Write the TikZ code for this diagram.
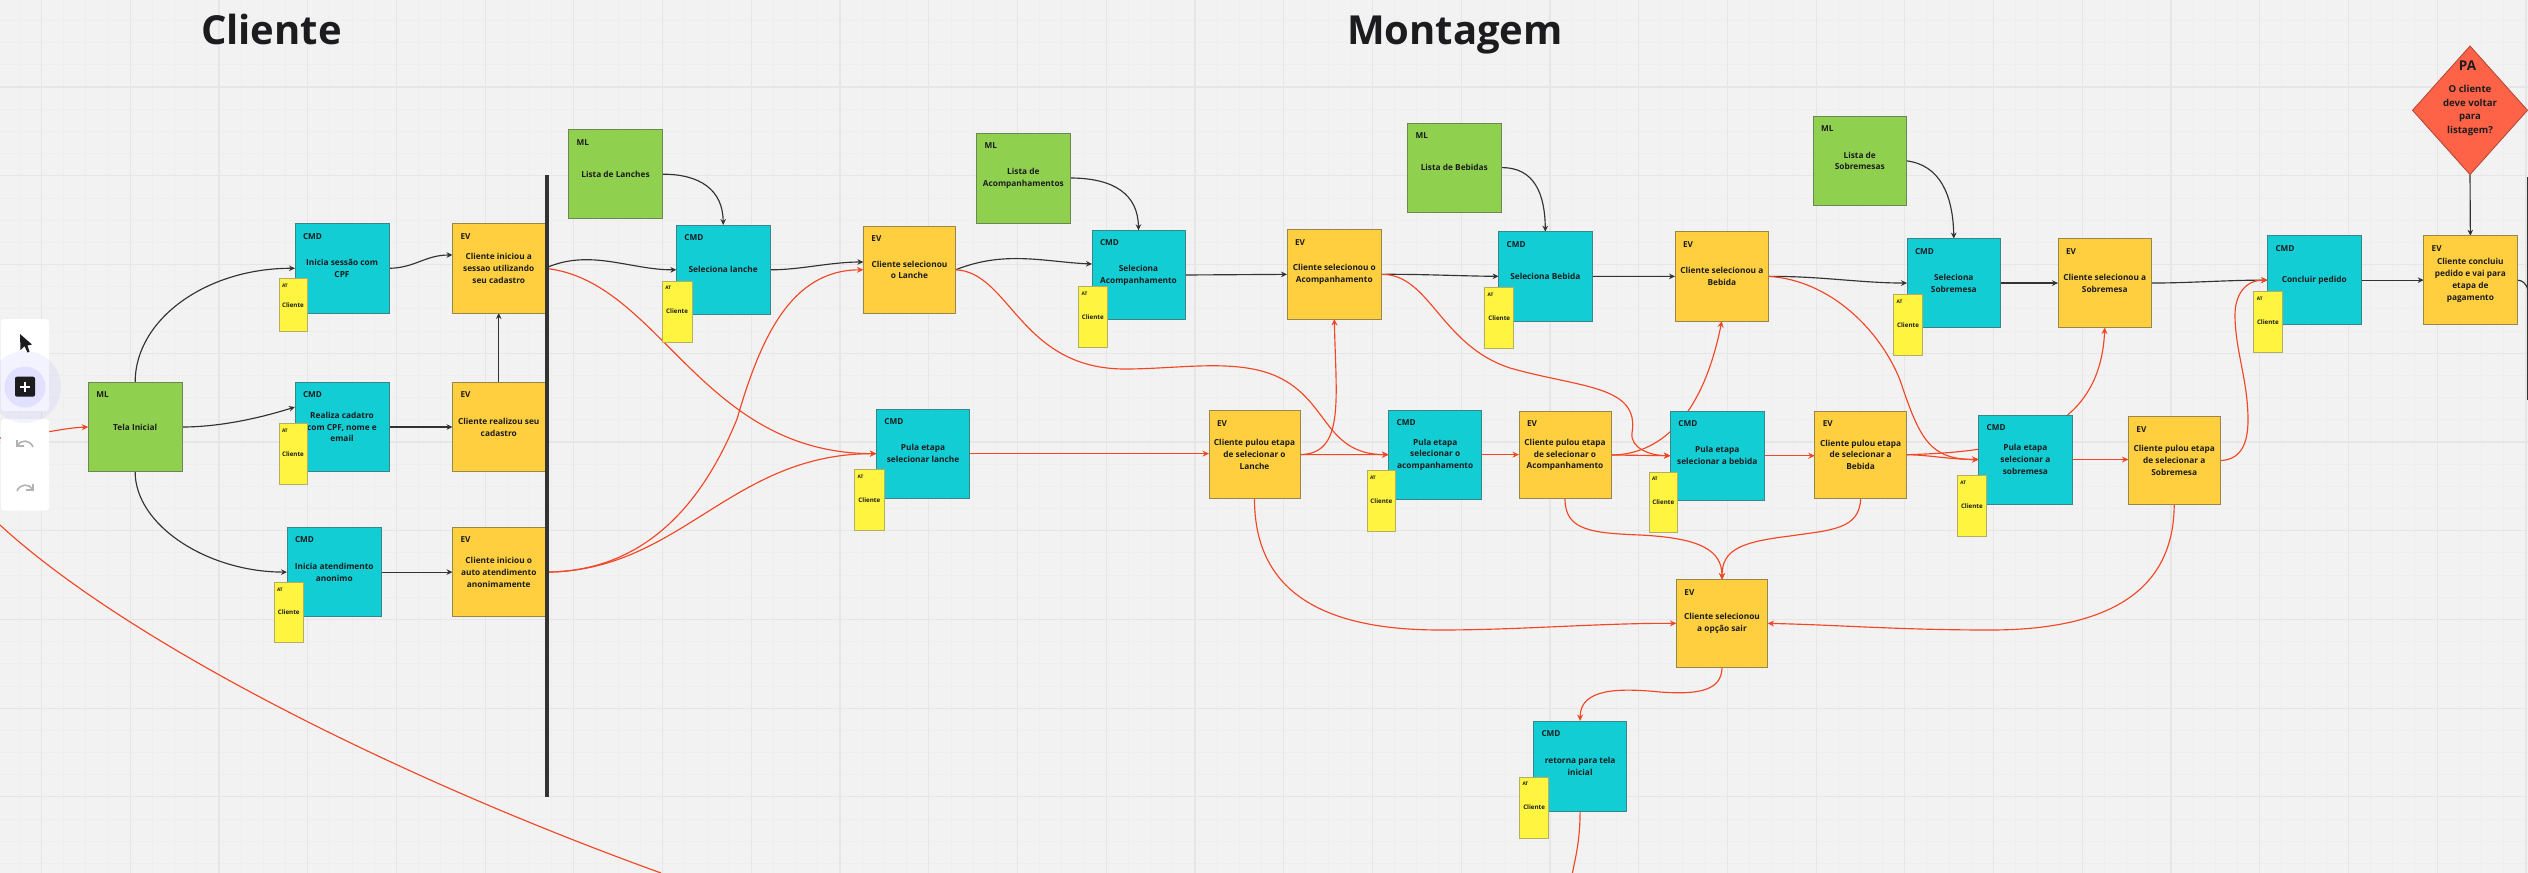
\documentclass[tikz,border=0pt]{standalone}
\usepackage{fontspec}
\setmainfont{Open Sans}
\usetikzlibrary{arrows.meta,shapes.geometric}
\pgfdeclarelayer{bg}
\pgfsetlayers{bg,main}
\definecolor{paper}{HTML}{F2F2F2}
\definecolor{gridmaj}{HTML}{E6E6E6}
\definecolor{gridmin}{HTML}{EEEEEE}
\definecolor{cmdc}{HTML}{12CDD4}
\definecolor{mlc}{HTML}{8FD14F}
\definecolor{evc}{HTML}{FFCF40}
\definecolor{atc}{HTML}{FFF540}
\definecolor{pac}{HTML}{FF6347}
\definecolor{redl}{HTML}{F24726}
\definecolor{blkl}{HTML}{333333}
\definecolor{ink}{HTML}{1C1C1E}
\tikzset{
  every node/.style={inner sep=0pt,outer sep=0pt,text=ink},
  sticky/.style={rectangle,align=center,line width=1pt,font=\bfseries\fontsize{8.3}{11.8}\selectfont},
  cmdbox/.style={sticky,fill=cmdc,draw=cmdc!50!gray!80!black},
  mlbox/.style={sticky,fill=mlc,draw=mlc!50!gray!80!black},
  evbox/.style={sticky,fill=evc,draw=evc!50!gray!80!black},
  atbox/.style={rectangle,align=center,line width=1pt,fill=atc,draw=atc!40!gray,font=\bfseries\fontsize{6.2}{7}\selectfont},
  tagtext/.style={anchor=west,font=\bfseries\fontsize{8.2}{10}\selectfont},
  attag/.style={anchor=west,font=\bfseries\fontsize{4.8}{5}\selectfont},
  title/.style={font=\bfseries\fontsize{40}{44}\selectfont,anchor=base west},
  blk/.style={draw=blkl,line width=1.15pt,-{Stealth[length=6pt,width=5.6pt]}},
  redc/.style={draw=redl,line width=1.15pt,-{Stealth[length=6.5pt,width=6pt]}},
  panel/.style={fill=white,draw=none,rounded corners=3pt},
  toolicon/.style={draw=black!30!white,line width=1.6pt}
}
\newcommand{\stickyn}[8]{%
  \pgfmathsetmacro\bw{#5-#3}\pgfmathsetmacro\bh{#6-#4}%
  \pgfmathsetmacro\cx{(#3+#5)/2}\pgfmathsetmacro\cy{(#4+#6)/2}%
  \pgfmathsetmacro\tx{#3+8}\pgfmathsetmacro\ty{#4+12.5}%
  \node[#1,minimum width=\bw pt,minimum height=\bh pt] (#2) at (\cx,\cy) {#8};
  \node[tagtext] (#2-t) at (\tx,\ty) {#7};
}
\newcommand{\atn}[5]{%
  \pgfmathsetmacro\bw{#4-#2}\pgfmathsetmacro\bh{#5-#3}%
  \pgfmathsetmacro\cx{(#2+#4)/2}\pgfmathsetmacro\cy{(#3+#5)/2}%
  \pgfmathsetmacro\tx{#2+3}\pgfmathsetmacro\ty{#3+7}%
  \node[atbox,minimum width=\bw pt,minimum height=\bh pt] (#1) at (\cx,\cy) {Cliente};
  \node[attag] (#1-t) at (\tx,\ty) {AT};
}
\begin{document}
\begin{tikzpicture}[x=1pt,y=-1pt]
\path[use as bounding box] (0,0) rectangle (2528,873);

% --- titles
\node[title] (t1) at (201,44) {Cliente};
\node[title] (t2) at (1347,44) {Montagem};

% --- column 1
\stickyn{mlbox}{ml0}{88.3}{382.3}{182}{471.7}{ML}{Tela Inicial}
\stickyn{cmdbox}{c1}{295}{223.6}{389}{313}{CMD}{Inicia sessão com\\CPF}
\stickyn{evbox}{e1}{452.5}{223.6}{545}{313}{EV}{Cliente iniciou a\\sessao utilizando\\seu cadastro}
\atn{a1}{279}{278.5}{307}{331.3}
\stickyn{cmdbox}{c2}{295}{382.3}{389}{471.7}{CMD}{Realiza cadatro\\com CPF, nome e\\email}
\stickyn{evbox}{e2}{452.5}{382.3}{545}{471.7}{EV}{Cliente realizou seu\\cadastro}
\atn{a2}{279}{423.6}{307}{484}
\stickyn{cmdbox}{c3}{287}{527.5}{381.5}{616.7}{CMD}{Inicia atendimento\\anonimo}
\stickyn{evbox}{e3}{452.5}{527.5}{545}{616.7}{EV}{Cliente iniciou o\\auto atendimento\\anonimamente}
\atn{a3}{274}{582.4}{303.5}{642}

% --- top row
\stickyn{mlbox}{mla}{568.7}{129.7}{662.3}{218.7}{ML}{Lista de Lanches}
\stickyn{cmdbox}{c4}{676.4}{225}{770}{314.6}{CMD}{Seleciona lanche}
\atn{a4}{662.3}{281}{692}{342}
\stickyn{evbox}{e4}{863.4}{226.3}{955.6}{313.3}{EV}{Cliente selecionou\\o Lanche}
\stickyn{mlbox}{mlb}{976.7}{133.3}{1070}{223}{ML}{Lista de\\Acompanhamentos}
\stickyn{cmdbox}{c5}{1092}{230.3}{1185}{319.7}{CMD}{Seleciona\\Acompanhamento}
\atn{a5}{1078.6}{286.3}{1107}{347.3}
\stickyn{evbox}{e5}{1287}{229.7}{1381.6}{319}{EV}{Cliente selecionou o\\Acompanhamento}
\stickyn{mlbox}{mlc}{1407.6}{123}{1501}{212.3}{ML}{Lista de Bebidas}
\stickyn{cmdbox}{c6}{1498.6}{231.7}{1592}{321}{CMD}{Seleciona Bebida}
\atn{a6}{1484.6}{287.3}{1513.8}{348.3}
\stickyn{evbox}{e6}{1675}{231.8}{1768.6}{321}{EV}{Cliente selecionou a\\Bebida}
\stickyn{mlbox}{mld}{1813}{116}{1906.5}{205.7}{ML}{Lista de\\Sobremesas}
\stickyn{cmdbox}{c7}{1907}{238.6}{2000.6}{327.5}{CMD}{Seleciona\\Sobremesa}
\atn{a7}{1893.5}{294.6}{1922.5}{355}
\stickyn{evbox}{e7}{2058}{238.6}{2151.5}{327.5}{EV}{Cliente selecionou a\\Sobremesa}
\stickyn{cmdbox}{c8}{2267.5}{235.7}{2361}{324.6}{CMD}{Concluir pedido}
\atn{a8}{2253.8}{291.8}{2282}{352}
\stickyn{evbox}{e8}{2423.7}{235.7}{2517}{324.6}{EV}{Cliente concluiu\\pedido e vai para\\etapa de\\pagamento}

% --- decision
\node[diamond,fill=pac,draw=pac!70!black,line width=.8pt,minimum width=115pt,minimum height=128.6pt] (pa) at (2470,110.3) {};
\node[font=\bfseries\fontsize{13.5}{15}\selectfont] (pa-t) at (2467.5,66) {PA};
\node[align=center,font=\bfseries\fontsize{9.6}{13.6}\selectfont] (pa-l) at (2470,110.7) {O cliente\\deve voltar\\para\\listagem?};

% --- skip row
\stickyn{cmdbox}{p1}{876.4}{409}{969.6}{498.3}{CMD}{Pula etapa\\selecionar lanche}
\atn{ap1}{854.7}{469.7}{884}{530.3}
\stickyn{evbox}{q1}{1209}{410.7}{1300}{498}{EV}{Cliente pulou etapa\\de selecionar o\\Lanche}
\stickyn{cmdbox}{p2}{1388.6}{410}{1481.8}{499.3}{CMD}{Pula etapa\\selecionar o\\acompanhamento}
\atn{ap2}{1367}{470.7}{1395.7}{531.3}
\stickyn{evbox}{q2}{1519}{411.3}{1611}{498.7}{EV}{Cliente pulou etapa\\de selecionar o\\Acompanhamento}
\stickyn{cmdbox}{p3}{1670.4}{411.4}{1764}{500}{CMD}{Pula etapa\\selecionar a bebida}
\atn{ap3}{1649}{472}{1677.5}{532.5}
\stickyn{evbox}{q3}{1814.8}{411.4}{1906.5}{498}{EV}{Cliente pulou etapa\\de selecionar a\\Bebida}
\stickyn{cmdbox}{p4}{1978.7}{415}{2072}{504}{CMD}{Pula etapa\\selecionar a\\sobremesa}
\atn{ap4}{1957.4}{475.7}{1986.4}{536.4}
\stickyn{evbox}{q4}{2128.4}{416.8}{2220}{504.3}{EV}{Cliente pulou etapa\\de selecionar a\\Sobremesa}

% --- exit
\stickyn{evbox}{s}{1676.4}{579.7}{1767.6}{667}{EV}{Cliente selecionou\\a opção sair}
\stickyn{cmdbox}{r}{1533.5}{721}{1626.7}{811}{CMD}{retorna para tela\\inicial}
\atn{ar}{1519.5}{777}{1548.8}{838}

% --- free ends
\coordinate (inL) at (0,438);
\coordinate (bigA) at (0,525);
\coordinate (bigB) at (661,873);
\coordinate (offB) at (1572.4,873);
\coordinate (offR) at (2528,290);

% --- swimlane bars
\node[fill=blkl,minimum width=4pt,minimum height=622pt] (bar1) at (547,486) {};
\node[fill=blkl,minimum width=1.4pt,minimum height=223pt] (bar2) at (2527.2,288) {};

\begin{pgfonlayer}{bg}
\fill[paper] (0,0) rectangle (2528,873);
\foreach \i in {0,...,114} {\draw[gridmin,line width=.7pt] ({19.3+22.18*\i},0) -- ({19.3+22.18*\i},873);}
\foreach \j in {0,...,40} {\draw[gridmin,line width=.7pt] (0,{-1.7+22.18*\j}) -- (2528,{-1.7+22.18*\j});}
\foreach \i in {0,...,28} {\draw[gridmaj,line width=1.2pt] ({41.5+88.73*\i},0) -- ({41.5+88.73*\i},873);}
\foreach \j in {0,...,9} {\draw[gridmaj,line width=1.2pt] (0,{-1.7+88.73*\j}) -- (2528,{-1.7+88.73*\j});}

% black connectors
\draw[blk] (ml0.north) .. controls (135,319) and (207,268) .. (c1.west);
\draw[blk] (ml0.east) .. controls (220,427) and (260,418) .. (c2.west |- 0,407);
\draw[blk] (ml0.south) .. controls (135,525) and (207,572) .. (c3.west);
\draw[blk] (c1.east) .. controls (415,268) and (425,255) .. (e1.west |- 0,255);
\draw[blk] (c2.east) -- (e2.west);
\draw[blk] (c3.east) -- (e3.west);
\draw[blk] (e2.north) -- (e1.south);
\draw[blk] (e1.east) .. controls (590,248) and (630,270) .. (c4.west);
\draw[blk] (c4.east) .. controls (800,270) and (830,262) .. (e4.west |- 0,262);
\draw[blk] (mla.east) .. controls (700,174) and (723,190) .. (c4.north);
\draw[blk] (e4.east) .. controls (1005,250) and (1045,262) .. (c5.west |- 0,264);
\draw[blk] (mlb.east |- 0,178) .. controls (1115,178) and (1138,195) .. (c5.north);
\draw[blk] (c5.east) -- (e5.west);
\draw[blk] (e5.east) .. controls (1420,274) and (1460,276) .. (c6.west);
\draw[blk] (mlc.east) .. controls (1535,167) and (1545,195) .. (c6.north);
\draw[blk] (c6.east) -- (e6.west);
\draw[blk] (e6.east) .. controls (1820,276) and (1860,283) .. (c7.west);
\draw[blk] (mld.east) .. controls (1940,165) and (1953,195) .. (c7.north);
\draw[blk] (c7.east) -- (e7.west);
\draw[blk] (e7.east) .. controls (2190,283) and (2230,280) .. (c8.west);
\draw[blk] (c8.east) -- (e8.west);
\draw[blk] (pa.south) -- (e8.north);
\draw[draw=blkl,line width=1.15pt] (e8.east) .. controls (2522,280) and (2526,283) .. (offR);

% red connectors
\draw[redc] (inL) .. controls (30,437) and (60,428) .. (ml0.west);
\draw[draw=redl,line width=1.15pt] (bigA) .. controls (125,640) and (390,775) .. (bigB);
\draw[redc] (e1.east) .. controls (660,280) and (700,453.6) .. (p1.west);
\draw[redc] (e3.east) .. controls (640,572) and (700,510) .. (737,419) .. controls (760,340) and (790,270) .. (e4.west);
\draw[redc] (e3.east) .. controls (680,572) and (730,453.6) .. (p1.west);
\draw[redc] (p1.east) -- (q1.west |- p1.east);
\draw[redc] (e4.east) .. controls (1010,272) and (1020,369) .. (1125,369) .. controls (1175,369) and (1225,360) .. (1265,372) .. controls (1330,392) and (1320,454.6) .. (p2.west);
\draw[redc] (q1.east |- 0,454.6) .. controls (1345,454) and (1336,400) .. (e5.south);
\draw[redc] (q1.east |- 0,454.6) -- (p2.west);
\draw[redc] (p2.east) -- (q2.west |- p2.east);
\draw[redc] (e5.east) .. controls (1430,274) and (1440,345) .. (1510,368) .. controls (1580,388) and (1640,385) .. (1632,433) .. controls (1630,448) and (1650,455.7) .. (p3.west);
\draw[redc] (q2.east) -- (p3.west);
\draw[redc] (q2.east) .. controls (1650,455) and (1700,430) .. (e6.south);
\draw[redc] (p3.east) -- (q3.west |- p3.east);
\draw[redc] (e6.east) .. controls (1830,280) and (1880,330) .. (1900,380) .. controls (1920,440) and (1930,459.5) .. (p4.west);
\draw[redc] (q3.east) .. controls (1930,455) and (1950,459.5) .. (p4.west);
\draw[redc] (q3.east) .. controls (2000,452) and (2100,440) .. (e7.south);
\draw[redc] (p4.east) -- (q4.west |- p4.east);
\draw[redc] (q4.east) .. controls (2240,460) and (2248,445) .. (2248,420) .. controls (2248,380) and (2235,350) .. (2235,315) .. controls (2235,295) and (2245,280) .. (c8.west);
\draw[redc] (q1.south) .. controls (1254,590) and (1320,630) .. (1440,630) .. controls (1520,630) and (1600,623) .. (s.west);
\draw[redc] (q2.south) .. controls (1565,530) and (1590,533) .. (1640,535) .. controls (1700,538) and (1722,550) .. (s.north);
\draw[redc] (q3.south) .. controls (1860,530) and (1830,530) .. (1790,536) .. controls (1740,542) and (1722,550) .. (s.north);
\draw[redc] (q4.south) .. controls (2174,590) and (2110,630) .. (1990,630) .. controls (1900,630) and (1840,625) .. (s.east);
\draw[redc] (s.south) .. controls (1722,690) and (1700,695) .. (1660,692) .. controls (1620,688) and (1580,688) .. (r.north);
\draw[draw=redl,line width=1.15pt] (r.south) .. controls (1580,840) and (1576,855) .. (offB);
\end{pgfonlayer}

% --- toolbar (screen overlay)
\fill[panel] (1,319) rectangle (49,411);
\fill[panel] (1,419) rectangle (49,510.7);
\fill[fill=blue!60!white,opacity=.08] (25,387) circle (36);
\fill[fill=blue!70!white,opacity=.10] (25,387) circle (20.5);
\fill[fill=ink,rounded corners=2pt] (15,376.7) rectangle (35,396.7);
\draw[white,line width=1.6pt] (20,386.7) -- (30,386.7) (25,381.7) -- (25,391.7);
\fill[ink] (20,334) -- (20.5,350) -- (24.5,346) -- (27.5,352.5) -- (29.5,351.5) -- (27.5,345.5) -- (32,344.5) -- cycle;
\draw[toolicon] (33,447) .. controls (30,439.5) and (21,439.5) .. (17.5,445);
\draw[toolicon] (17,439.5) -- (17,446) -- (24,446);
\draw[toolicon] (17,491) .. controls (20,483.5) and (29,483.5) .. (32.5,489);
\draw[toolicon] (33,483.5) -- (33,490) -- (26,490);
\end{tikzpicture}
\end{document}
